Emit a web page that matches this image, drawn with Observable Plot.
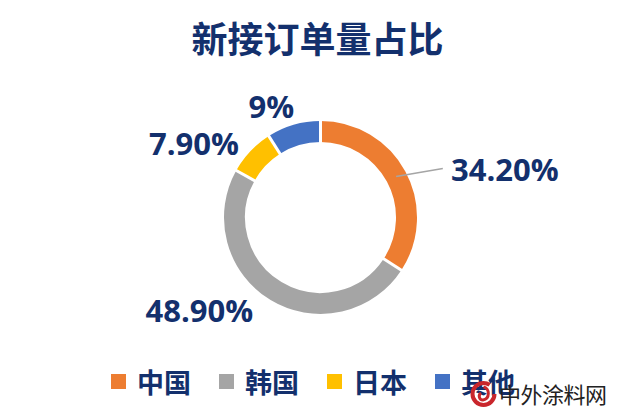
<!DOCTYPE html>
<html>
<head>
<meta charset="utf-8">
<script src="https://cdn.jsdelivr.net/npm/d3@7"></script>
<script src="https://cdn.jsdelivr.net/npm/@observablehq/plot@0.6"></script>
<style>
  html, body { margin: 0; padding: 0; background: #fff; }
  body { width: 640px; height: 417px; overflow: hidden; position: relative; }
  #title { height: 38px; padding-top: 19px; line-height: 36px; text-align: center; padding-right: 5px;
    font-family: "Noto Sans CJK SC", sans-serif; font-weight: 700; font-size: 36px; color: #13306d; }
  #chart svg { display: block; }
  #legend { position: absolute; left: 111px; top: 362px; width: 529px; }
  .lg-swatches { font-family: "Noto Sans CJK SC", sans-serif !important; font-weight: 700; font-size: 27px !important;
    color: #13306d; margin: 0 !important; flex-wrap: nowrap !important; }
  .lg-swatch > svg { margin-right: 11px !important; }
  .lg-swatch { margin-right: 28px !important; }
  #wm { position: absolute; left: 470px; top: 377px; display: flex; align-items: center; }
  #wm span { font-family: "Noto Sans CJK SC", sans-serif; font-weight: 400; font-size: 22px; color: #222; margin-left: 2px; letter-spacing: -0.5px; }
</style>
</head>
<body>
<div id="title">新接订单量占比</div>
<div id="chart"></div>
<div id="legend"></div>
<div id="wm">
  <svg width="27" height="31" viewBox="0 0 27 31">
    <circle cx="13.5" cy="16" r="11" fill="none" stroke="#c9262c" stroke-width="4" stroke-dasharray="58 12"/>
    <path d="M13.5 9 C 20 10, 20 21, 13 22 C 9 22, 8 17, 11 15" fill="none" stroke="#c9262c" stroke-width="3"/>
  </svg>
  <span>中外涂料网</span>
</div>
<script>
// ---- data ----
const categories = ["中国", "韩国", "日本", "其他"];
const shares = [34.2, 48.9, 7.9, 9];
const labels = ["34.20%", "48.90%", "7.90%", "9%"];
const colors = ["#ed7d31", "#a5a5a5", "#ffc000", "#4472c4"];

// ---- layout (not data) ----
const R = 86;          // ring mid radius (px units)
const ringWidth = 21;
const labelRadius = 130;
const labelNudge = [[70, -15], [-54, 17], [-32, -17], [-13, -15]];
const leaderFor = ["中国"];

const total = d3.sum(shares);
let acc = 0;
const slices = categories.map((c, i) => {
  const a0 = acc / total * 360;
  acc += shares[i];
  const a1 = acc / total * 360;
  return {category: c, share: shares[i], label: labels[i], a0, a1, mid: (a0 + a1) / 2, nudge: labelNudge[i]};
});
const rad = Math.PI / 180;
const px = (a, r) => r * Math.sin(a * rad);
const py = (a, r) => r * Math.cos(a * rad);

const navy = "#13306d";
const rIn = R - ringWidth / 2 - 2, rOut = R + ringWidth / 2 + 2;

const marks = [
  ...slices.map(s => Plot.arrow([s], {
    x1: d => px(d.a0, R), y1: d => py(d.a0, R),
    x2: d => px(d.a1, R), y2: d => py(d.a1, R),
    bend: (s.a1 - s.a0) / 2,
    stroke: "category", strokeWidth: ringWidth, strokeLinecap: "butt", headLength: 0
  })),
  Plot.link(slices, {
    x1: d => px(d.a0, rIn), y1: d => py(d.a0, rIn),
    x2: d => px(d.a0, rOut), y2: d => py(d.a0, rOut),
    stroke: "white", strokeWidth: 3
  }),
  Plot.link(slices.filter(d => leaderFor.includes(d.category)), {
    x1: d => px(d.mid, R), y1: d => py(d.mid, R),
    x2: d => px(d.mid, labelRadius) + d.nudge[0] - 62, y2: d => py(d.mid, labelRadius) + d.nudge[1] + 2,
    stroke: "#a5a5a5", strokeWidth: 1.5
  }),
  Plot.text(slices, {
    x: d => px(d.mid, labelRadius) + d.nudge[0],
    y: d => py(d.mid, labelRadius) + d.nudge[1],
    text: "label", fill: navy, fontSize: 31, fontWeight: "bold",
    fontFamily: "Open Sans, sans-serif"
  })
];

const chart = Plot.plot({
  width: 640, height: 300,
  margin: 0,
  x: {domain: [-320, 320], axis: null},
  y: {domain: [-140, 160], axis: null},
  color: {domain: categories, range: colors},
  marks
});
document.getElementById("chart").appendChild(chart);

const legend = Plot.legend({
  color: {type: "ordinal", domain: categories, range: colors},
  swatchSize: 15,
  className: "lg"
});
document.getElementById("legend").appendChild(legend);
</script>
</body>
</html>
